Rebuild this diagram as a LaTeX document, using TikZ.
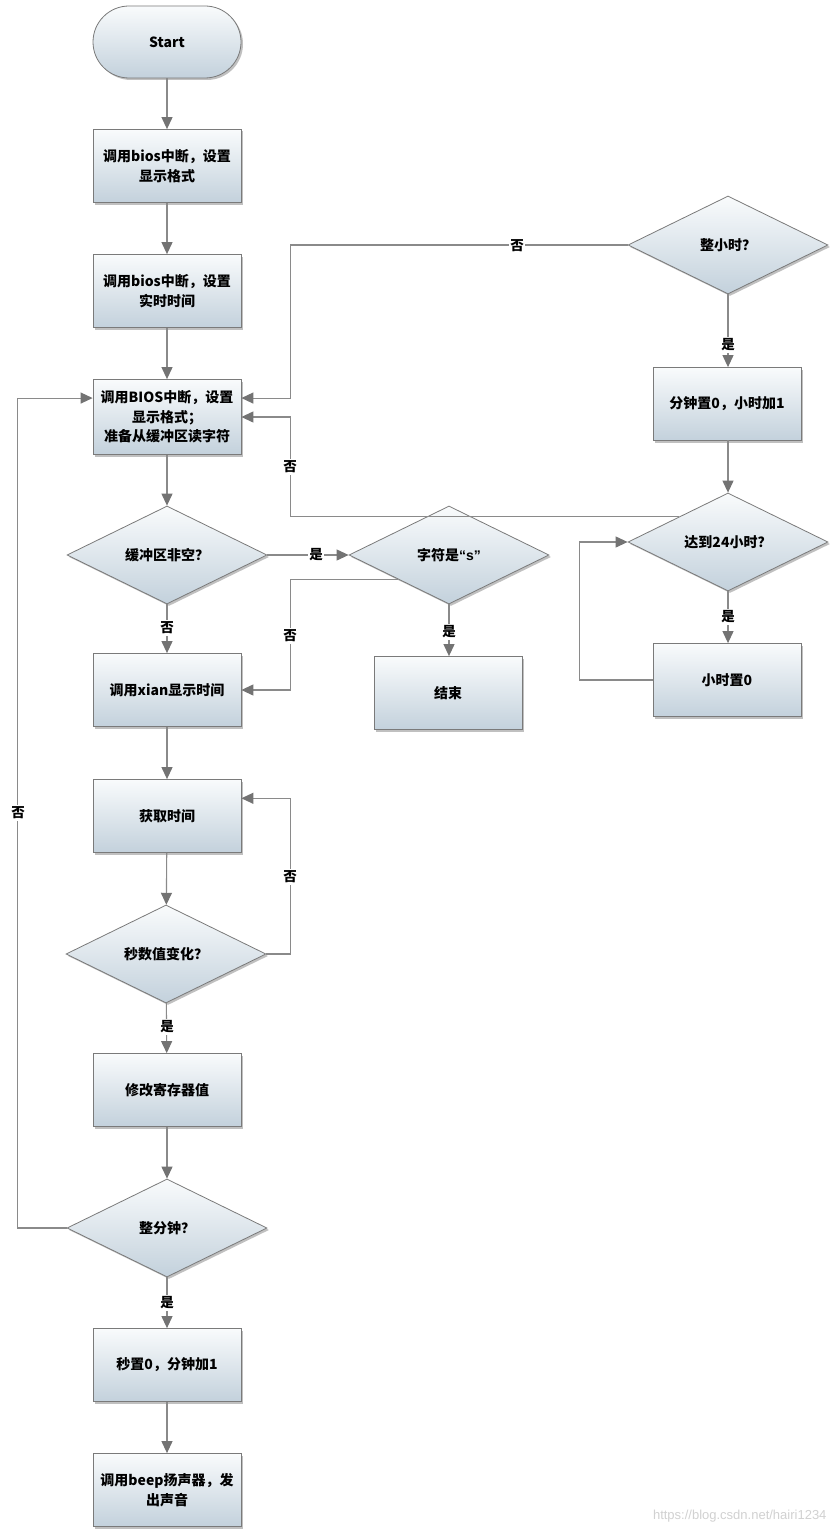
\documentclass[tikz,border=0pt]{standalone}
\usepackage{fontspec}
\setmainfont{Noto Sans CJK SC}
\newfontfamily\wmfont{Liberation Sans}
\usetikzlibrary{shapes.geometric,arrows.meta,shadows,calc}
\definecolor{ln}{HTML}{8A8A8A}
\definecolor{tipc}{HTML}{737373}
\definecolor{topc}{HTML}{F9FBFC}
\definecolor{botc}{HTML}{C3D1DC}
\definecolor{bord}{HTML}{7A7A7A}
\begin{document}
\begin{tikzpicture}[x=1pt,y=-1pt,
 base/.style={draw=bord, line width=0.8pt, top color=topc, bottom color=botc,
   font=\fontsize{14}{19.5}\selectfont\bfseries, align=center, inner sep=2pt,
   drop shadow={shadow xshift=2pt,shadow yshift=-2pt,opacity=0.35,fill=black!70}},
 proc/.style={base, minimum width=148pt, minimum height=73pt},
 term/.style={base, rounded corners=36pt, minimum width=148pt, minimum height=72pt},
 dec/.style={base, diamond, aspect=2, minimum width=200pt, minimum height=98pt, inner sep=0pt},
 conn/.style={draw=ln, line width=1.1pt, -{Triangle[length=12pt,width=11pt,color=tipc]}},
 lbl/.style={fill=white, inner sep=1.5pt, font=\fontsize{13.5}{15}\selectfont\bfseries}
]
\useasboundingbox (0,0) rectangle (838,1536);
\fill[white] (0,0) rectangle (838,1536);

% nodes
\node[term] (start) at (167,42) {Start};
\node[proc] (b1) at (167,166) {调用bios中断，设置\\显示格式};
\node[proc] (b2) at (167,291) {调用bios中断，设置\\实时时间};
\node[proc, minimum height=75pt] (b3) at (167,417) {调用BIOS中断，设置\\显示格式；\\准备从缓冲区读字符};
\node[dec] (d1) at (167,555) {缓冲区非空？};
\node[dec] (d2) at (449,555) {字符是{\wmfont\bfseries “s”}};
\node[proc] (end) at (448,693) {结束};
\node[proc] (b4) at (167,690) {调用xian显示时间};
\node[proc] (b5) at (167,816) {获取时间};
\node[dec] (d3) at (166,954) {秒数值变化？};
\node[proc] (b6) at (167,1090) {修改寄存器值};
\node[dec] (d4) at (167,1228) {整分钟？};
\node[proc] (b7) at (167,1365) {秒置0，分钟加1};
\node[proc] (b8) at (167,1490) {调用beep扬声器，发\\出声音};
\node[dec] (d5) at (728,245) {整小时？};
\node[proc] (b9) at (727,404) {分钟置0，小时加1};
\node[dec] (d6) at (728,542) {达到24小时？};
\node[proc] (b10) at (727,680) {小时置0};

% helper coordinates
\coordinate (zf) at ($(d2.west)!0.49!(d2.south)$);
\coordinate (b5r) at ($(b5.north east)!0.26!(b5.south east)$);
\coordinate (b3l) at ($(b3.north west)!0.25!(b3.south west)$);
\coordinate (b3r) at ($(b3.north east)!0.25!(b3.south east)$);
\coordinate (d6a) at ($(d6.west)!0.51!(d6.north)$);

% connectors
\draw[conn] (start) -- (b1);
\draw[conn] (b1) -- (b2);
\draw[conn] (b2) -- (b3);
\draw[conn] (b3) -- (d1);
\draw[conn] (d1.east) -- (d2.west);
\draw[conn] (d1) -- (b4);
\draw[conn] (d2.south) -- (d2.south |- end.north);
\draw[conn] (zf) -| ($(b4.east)+(49,0)$) -- (b4.east);
\draw[conn] (b4) -- (b5);
\draw[conn] (b5) -- (d3);
\draw[conn] (d3.east) -| ($(b5r)+(49,0)$) -- (b5r);
\draw[conn] (d3) -- (b6);
\draw[conn] (b6) -- (d4);
\draw[conn] (d4.west) -| ($(b3l)+(-75,0)$) -- (b3l);
\draw[conn] (d4) -- (b7);
\draw[conn] (b7) -- (b8);
\draw[conn] (d5.west) -| ($(b3r)+(49,0)$) -- (b3r);
\draw[conn] (d5.south) -- (d5.south |- b9.north);
\draw[conn] (b9.south) -- (b9.south -| d6.north) -- (d6.north);
\draw[conn] (d6a) -| ($(b3.east)+(49,0)$) -- (b3.east);
\draw[conn] (d6.south) -- (d6.south |- b10.north);
\draw[conn] (b10.west) -| ($(d6.west)+(-48,0)$) -- (d6.west);

% labels
\node[lbl] (l1) at (517,246) {否};
\node[lbl] (l2) at (728,345) {是};
\node[lbl] (l3) at (290,467) {否};
\node[lbl] (l4) at (316,555) {是};
\node[lbl] (l5) at (167,628) {否};
\node[lbl] (l6) at (449,632) {是};
\node[lbl] (l7) at (290,636) {否};
\node[lbl] (l8) at (728,617) {是};
\node[lbl] (l9) at (290,877) {否};
\node[lbl] (l10) at (167,1027) {是};
\node[lbl] (l11) at (18,813) {否};
\node[lbl] (l12) at (167,1303) {是};

% watermark
\node[text=black!18, font=\wmfont\fontsize{13}{15}\selectfont, anchor=east] (wm) at (830,1516) {https://blog.csdn.net/hairi1234};
\end{tikzpicture}
\end{document}
